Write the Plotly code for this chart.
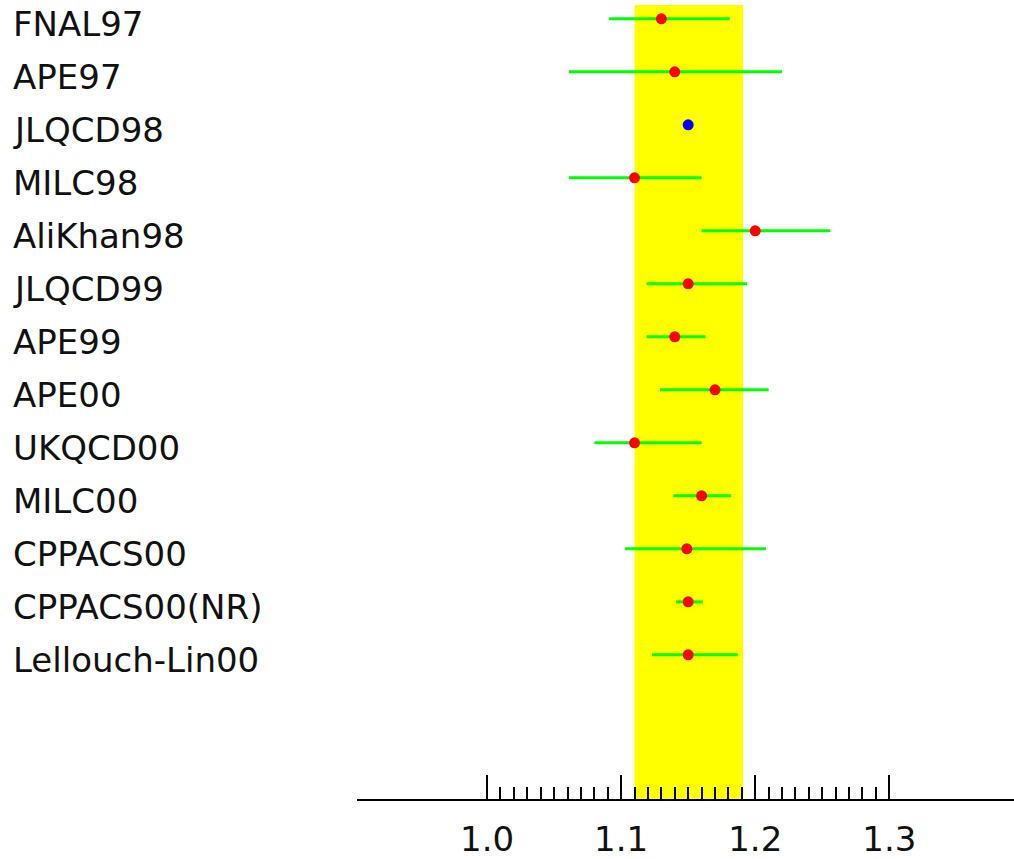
import plotly.graph_objects as go

labels = ["FNAL97", "APE97", "JLQCD98", "MILC98", "AliKhan98", "JLQCD99", "APE99",
          "APE00", "UKQCD00", "MILC00", "CPPACS00", "CPPACS00(NR)", "Lellouch-Lin00"]
values = [1.13, 1.14, 1.15, 1.11, 1.20, 1.15, 1.14, 1.17, 1.11, 1.16, 1.149, 1.15, 1.15]
err_lo = [1.091, 1.061, 1.15, 1.061, 1.160, 1.119, 1.119, 1.129, 1.080, 1.139, 1.103, 1.141, 1.123]
err_hi = [1.181, 1.220, 1.15, 1.160, 1.256, 1.194, 1.163, 1.210, 1.160, 1.182, 1.208, 1.161, 1.187]
colors = ["red", "red", "blue", "red", "red", "red", "red", "red", "red", "red", "red", "red", "red"]
band = [1.11, 1.191]
major_ticks = [1.0, 1.1, 1.2, 1.3]
minor_ticks = [round(1.0 + 0.01 * k, 2) for k in range(1, 30) if k % 10 != 0]

rows = list(range(len(labels)))
plus = [h - v for h, v in zip(err_hi, values)]
minus = [v - l for v, l in zip(values, err_lo)]

fig = go.Figure()
fig.add_shape(type="rect", xref="x", yref="paper", x0=band[0], x1=band[1], y0=0, y1=0.9938,
              fillcolor="#ffff00", line_width=0, layer="below")
fig.add_trace(go.Scatter(
    x=values, y=rows, mode="markers",
    marker=dict(color=colors, size=11, line_width=0),
    error_x=dict(type="data", array=plus, arrayminus=minus, color="#00ff00", thickness=3, width=0),
    showlegend=False, cliponaxis=False,
))

FONT = "DejaVu Sans"
for i, lab in enumerate(labels):
    fig.add_annotation(text=lab, xref="paper", yref="y", x=(11 - 357) / 657, y=i,
                       xanchor="left", yanchor="middle", showarrow=False,
                       font=dict(family=FONT, size=34, color="#111111"), yshift=-5)

fig.update_layout(
    width=1014, height=859, margin=dict(l=357, r=0, t=0, b=55),
    paper_bgcolor="white", plot_bgcolor="white",
    xaxis=dict(range=[0.903, 1.393], showgrid=False, zeroline=False, showline=True,
               linecolor="black", linewidth=2, ticks="inside", ticklen=24, tickwidth=2,
               tickcolor="black", tickmode="array", tickvals=major_ticks,
               ticktext=["1.0", "1.1", "1.2", "1.3"],
               tickfont=dict(family=FONT, size=34, color="#111111"), ticklabelstandoff=9,
               minor=dict(ticks="inside", ticklen=12, tickwidth=2, tickcolor="black",
                          tickmode="array", tickvals=minor_ticks, showgrid=False)),
    yaxis=dict(range=[14.72, -0.356], visible=False, showgrid=False, zeroline=False),
)

fig.write_html("out.html")
